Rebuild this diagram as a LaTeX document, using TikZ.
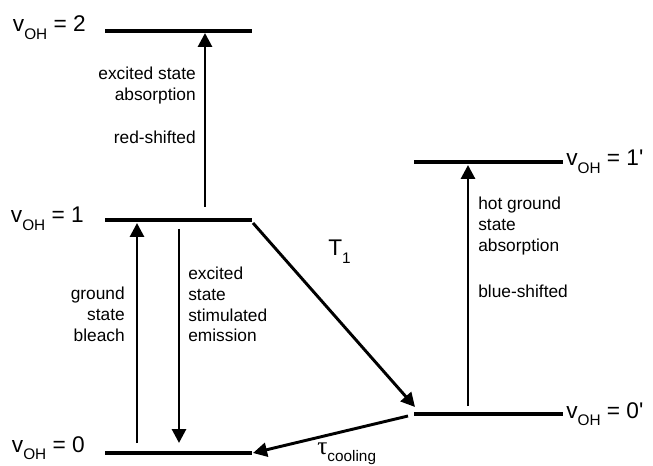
\documentclass[tikz,border=0pt]{standalone}
\usepackage{fontspec}
\setmainfont{Liberation Sans}
\newfontfamily\greekfont{Liberation Serif}
\usetikzlibrary{arrows.meta}
\newcommand{\lowtxt}[2][11.5]{\raisebox{-5.5pt}{\fontsize{#1}{#1}\selectfont #2}}
\tikzset{
  level/.style={line width=3pt},
  trans/.style={-{Triangle[length=10.5pt,width=10.5pt]},line width=2.2pt},
  statelabel/.style={font=\fontsize{17}{20}\selectfont,inner sep=0pt},
  proclabel/.style={font=\fontsize{13}{15.5}\selectfont,inner sep=0pt}
}

\begin{document}
\begin{tikzpicture}[x=0.75pt,y=-0.75pt]
  \useasboundingbox (0,0) rectangle (653,466);

  \draw[level] (105,31) -- (252,31);
  \draw[level] (105,220) -- (252,220);
  \draw[level] (105,453) -- (252,453);
  \draw[level] (414,162) -- (563,162);
  \draw[level] (414,414) -- (563,414);

  \node[statelabel,anchor=base east] (lab2) at (86,32) {v\lowtxt{OH} = 2};
  \node[statelabel,anchor=base east] (lab1) at (84,223) {v\lowtxt{OH} = 1};
  \node[statelabel,anchor=base east] (lab0) at (85,452) {v\lowtxt{OH} = 0};
  \node[statelabel,anchor=base west] (lab1p) at (566,166) {v\lowtxt{OH} = 1\textquotesingle};
  \node[statelabel,anchor=base west] (lab0p) at (566,418) {v\lowtxt{OH} = 0\textquotesingle};

  \coordinate (esaS) at (205,207);
  \coordinate (esaT) at (205,33);
  \coordinate (gsbS) at (137,443);
  \coordinate (gsbT) at (137,223);
  \coordinate (semS) at (179,229);
  \coordinate (semT) at (179,443);
  \coordinate (relS) at (253,223);
  \coordinate (relT) at (415,407);
  \coordinate (hotS) at (468,406);
  \coordinate (hotT) at (468,165);
  \coordinate (coolS) at (408,416);
  \coordinate (coolT) at (253,453);

  \draw[trans] (esaS) -- (esaT);
  \draw[trans] (gsbS) -- (gsbT);
  \draw[trans] (semS) -- (semT);
  \draw[trans] (relS) -- (relT);
  \draw[trans] (hotS) -- (hotT);
  \draw[trans] (coolS) -- (coolT);

  \node[proclabel,anchor=north east,align=right] (esa) at (196,67)
    {excited state\\absorption\\[17pt]red-shifted};
  \node[proclabel,anchor=north east,align=right] (gsb) at (125,287)
    {ground\\state\\bleach};
  \node[proclabel,anchor=north west,align=left] (sem) at (188,267)
    {excited\\state\\stimulated\\emission};
  \node[proclabel,anchor=north west,align=left] (hot) at (478,197)
    {hot ground\\state\\absorption\\[19pt]blue-shifted};
  \node[statelabel,anchor=base west] (t1) at (328,256) {T\lowtxt{1}};
  \node[statelabel,anchor=base west] (tau) at (317,454)
    {{\greekfont\fontsize{19}{20}\selectfont τ}\lowtxt{cooling}};
\end{tikzpicture}
\end{document}
